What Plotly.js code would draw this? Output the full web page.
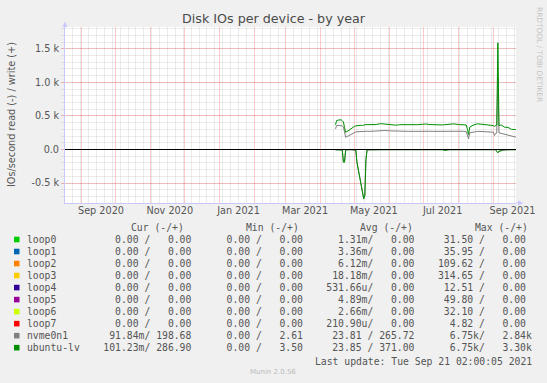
<!DOCTYPE html>
<html>
<head>
<meta charset="utf-8">
<script src="https://cdn.plot.ly/plotly-3.0.1.min.js"></script>
<style>
html,body{margin:0;padding:0;background:#F0F0F0;}
#chart{width:547px;height:383px;}
</style>
</head>
<body>
<div id="chart"></div>
<script>
// ---------- data ----------
const dates = ["2021-04-14","2021-04-15","2021-04-17","2021-04-19","2021-04-20","2021-04-21","2021-04-22","2021-04-23","2021-04-24","2021-04-26","2021-04-28","2021-05-01","2021-05-02","2021-05-03","2021-05-04","2021-05-05","2021-05-06","2021-05-07","2021-05-08","2021-05-09","2021-05-10","2021-05-11","2021-05-12","2021-05-14","2021-05-17","2021-05-20","2021-05-24","2021-05-28","2021-06-01","2021-06-04","2021-06-07","2021-06-10","2021-06-14","2021-06-18","2021-06-22","2021-06-26","2021-06-30","2021-07-03","2021-07-06","2021-07-10","2021-07-14","2021-07-18","2021-07-20","2021-07-24","2021-07-28","2021-08-01","2021-08-05","2021-08-08","2021-08-09","2021-08-10","2021-08-11","2021-08-14","2021-08-18","2021-08-22","2021-08-26","2021-08-30","2021-09-01","2021-09-02","2021-09-03","2021-09-04","2021-09-05","2021-09-06","2021-09-08","2021-09-09","2021-09-11","2021-09-14","2021-09-17","2021-09-20","2021-09-21"];
const ubuntuWrite = [368,432,440,442,428,410,330,258,265,290,323,347,352,355,360,365,368,362,358,366,370,372,370,368,376,372,385,380,376,372,362,370,368,372,366,370,375,380,372,368,372,366,370,372,382,372,370,365,300,223,333,362,383,378,375,370,357,345,360,365,1590,357,365,350,332,330,300,298,296];
const nvmeWrite   = [308,358,358,360,352,340,255,183,190,209,234,258,262,264,266,268,270,268,266,272,273,273,272,270,275,278,285,283,278,275,270,273,272,270,270,273,275,276,272,270,272,270,271,273,276,273,272,265,210,159,250,262,270,268,266,265,258,209,240,245,1080,249,240,235,220,208,195,185,184];
const ubuntuRead  = [5,5,4,5,6,189,189,6,3,3,3,3,8,190,290,390,487,600,700,735,690,150,5,3,3,3,3,3,3,3,3,3,3,3,3,3,3,3,3,3,3,3,15,3,3,3,3,3,10,4,3,3,3,3,3,3,3,3,3,30,50,25,20,5,3,3,3,3,3];
const nvmeRead    = [5,5,4,5,6,185,185,6,3,3,3,3,8,186,285,383,480,592,690,728,680,145,5,3,3,3,3,3,3,3,3,3,3,3,3,3,3,3,3,3,3,3,12,3,3,3,3,3,8,4,3,3,3,3,3,3,3,3,3,28,45,22,18,5,3,3,3,3,3];

const seriesNames  = ["loop0","loop1","loop2","loop3","loop4","loop5","loop6","loop7","nvme0n1","ubuntu-lv"];
const seriesColors = ["#00CC00","#0066B3","#FF8000","#FFCC00","#330099","#990099","#CCFF00","#FF0000","#808080","#008F00"];
const curRead  = ["0.00","0.00","0.00","0.00","0.00","0.00","0.00","0.00","91.84m","101.23m"];
const curWrite = ["0.00","0.00","0.00","0.00","0.00","0.00","0.00","0.00","198.68","286.90"];
const minRead  = ["0.00","0.00","0.00","0.00","0.00","0.00","0.00","0.00","0.00","0.00"];
const minWrite = ["0.00","0.00","0.00","0.00","0.00","0.00","0.00","0.00","2.61","3.50"];
const avgRead  = ["1.31m","3.36m","6.12m","18.18m","531.66u","4.89m","2.66m","210.90u","23.81","23.85"];
const avgWrite = ["0.00","0.00","0.00","0.00","0.00","0.00","0.00","0.00","265.72","371.00"];
const maxRead  = ["31.50","35.95","109.62","314.65","12.51","49.80","32.10","4.82","6.75k","6.75k"];
const maxWrite = ["0.00","0.00","0.00","0.00","0.00","0.00","0.00","0.00","2.84k","3.30k"];
const columnHeaders = ["Cur (-/+)","Min (-/+)","Avg (-/+)","Max (-/+)"];

const monthLabelDates = ["2020-09-18","2020-11-18","2021-01-18","2021-03-18","2021-05-18","2021-07-18","2021-09-18"];
const monthLabels = ["Sep 2020","Nov 2020","Jan 2021","Mar 2021","May 2021","Jul 2021","Sep 2021"];
const yTickVals = [-500,0,500,1000,1500];
const yTickText = ["-0.5 k","0.0","0.5 k","1.0 k","1.5 k"];
const xStart = "2020-08-17 02:00:05";
const xEnd = "2021-09-21 02:00:05";

// ---------- geometry ----------
const W = 547, H = 383, ML = 65, MR = 31, MT = 27, MB = 180;
const PW = W - ML - MR, PH = H - MT - MB;
const px = p => (p - ML) / PW;
const py = p => (H - MB - p) / PH;
const nb = s => s.replace(/ /g, "\u00A0");
const grayText = "#555555";
const PXK = 67.1, ZERO_PX = 149.5;

// ---------- traces ----------
const traces = [];
seriesNames.slice(0, 8).forEach((n, i) => {
  traces.push({x:[dates[0], dates[dates.length-1]], y:[0,0], xaxis:"x2", yaxis:"y",
    type:"scatter", mode:"lines", line:{color:seriesColors[i], width:1}, hoverinfo:"skip", showlegend:false});
});
traces.push({x:dates, y:nvmeRead.map(v => -v), type:"scatter", mode:"lines", line:{color:seriesColors[8], width:1}, showlegend:false});
traces.push({x:dates, y:nvmeWrite, type:"scatter", mode:"lines", line:{color:seriesColors[8], width:1}, showlegend:false});
traces.push({x:dates, y:ubuntuRead.map(v => -v), type:"scatter", mode:"lines", line:{color:seriesColors[9], width:1}, showlegend:false});
traces.push({x:dates, y:ubuntuWrite, type:"scatter", mode:"lines", line:{color:seriesColors[9], width:1}, showlegend:false});

// ---------- legend text ----------
function cell(v, w) {
  const s = /[a-z]$/i.test(v) ? v : v + " ";
  return s.padStart(w, " ");
}
function block(r, w) { return cell(r, 7) + "/" + cell(w, 8); }

const annotations = [];
const shapes = [];
const rowY0 = 239.5, rowStep = 12.02;
seriesNames.forEach((n, i) => {
  const line = n.padEnd(13, " ") + block(curRead[i], curWrite[i]) + "   " + block(minRead[i], minWrite[i]) +
    "   " + block(avgRead[i], avgWrite[i]) + "   " + block(maxRead[i], maxWrite[i]);
  const yc = rowY0 + rowStep * i;
  annotations.push({xref:"paper", yref:"paper", x:px(25.2), y:py(yc), xanchor:"left", yanchor:"middle",
    text:nb(line), showarrow:false, font:{family:"DejaVu Sans Mono", size:9.75, color:grayText}});
  shapes.push({type:"rect", xref:"paper", yref:"paper", x0:px(14), x1:px(19.5), y0:py(yc+2.8), y1:py(yc-2.8),
    fillcolor:seriesColors[i], line:{width:0}, layer:"above"});
});
const headerX = [128.8, 243.5, 357.8, 472.8];
columnHeaders.forEach((h, i) => {
  annotations.push({xref:"paper", yref:"paper", x:px(headerX[i]), y:py(227.7), xanchor:"left", yanchor:"middle",
    text:nb(h), showarrow:false, font:{family:"DejaVu Sans Mono", size:9.75, color:grayText}});
});
annotations.push({xref:"paper", yref:"paper", x:px(533.5), y:py(361), xanchor:"right", yanchor:"middle",
  text:nb("Last update: Tue Sep 21 02:00:05 2021"), showarrow:false, font:{family:"DejaVu Sans Mono", size:9.75, color:grayText}});
annotations.push({xref:"paper", yref:"paper", x:px(273), y:py(371.7), xanchor:"center", yanchor:"middle",
  text:"Munin 2.0.56", showarrow:false, font:{family:"DejaVu Sans", size:7, color:"#BBBBBB"}});
annotations.push({xref:"paper", yref:"paper", x:px(540), y:py(54), xanchor:"center", yanchor:"middle", textangle:90,
  text:"RRDTOOL / TOBI OETIKER", showarrow:false, font:{family:"DejaVu Sans", size:7.4, color:"#C4C4C4"}});
annotations.push({xref:"paper", yref:"paper", x:px(11), y:py(115), xanchor:"center", yanchor:"middle", textangle:-90,
  text:"IOs/second read (-) / write (+)", showarrow:false, font:{family:"DejaVu Sans", size:9.7, color:grayText}});

// zero line and axis arrows
shapes.push({type:"line", xref:"paper", yref:"y", x0:0, x1:1, y0:0, y1:0, line:{color:"#000000", width:1}, layer:"above"});
const axisCol = "#C8C8FF";
shapes.push({type:"path", xref:"paper", yref:"paper",
  path:`M ${px(62.5)} ${py(27)} L ${px(67.5)} ${py(27)} L ${px(65)} ${py(21.5)} Z`, fillcolor:axisCol, line:{width:0}, layer:"above"});
shapes.push({type:"path", xref:"paper", yref:"paper",
  path:`M ${px(518)} ${py(200.5)} L ${px(518)} ${py(205.5)} L ${px(523.5)} ${py(203)} Z`, fillcolor:axisCol, line:{width:0}, layer:"above"});
shapes.push({type:"line", xref:"paper", yref:"paper", x0:px(516), x1:px(518), y0:0, y1:0, line:{color:axisCol, width:1}, layer:"above"});

const majorGrid = "rgba(255,0,0,0.2)";
const minorGrid = "rgba(0,0,0,0.075)";

const layout = {
  width:W, height:H,
  paper_bgcolor:"#F0F0F0", plot_bgcolor:"#FFFFFF",
  margin:{l:ML, r:MR, t:MT, b:MB, pad:0},
  showlegend:false,
  title:{text:"Disk IOs per device - by year", x:0.5, xref:"container", xanchor:"center",
    y:1 - 19/H, yref:"container", yanchor:"middle", font:{family:"DejaVu Sans", size:12.7, color:"#4A4A4A"}},
  xaxis:{type:"date", range:[xStart, xEnd], showticklabels:false, ticks:"",
    tickmode:"linear", tick0:"2020-09-01", dtick:"M1",
    showgrid:true, gridcolor:majorGrid, griddash:"solid", gridwidth:1,
    minor:{tickmode:"linear", tick0:"2020-08-24", dtick:7*86400000, showgrid:true, gridcolor:minorGrid, griddash:"solid", gridwidth:1, ticks:""},
    zeroline:false, showline:true, linecolor:axisCol, linewidth:1, fixedrange:true},
  xaxis2:{type:"date", range:[xStart, xEnd], overlaying:"x", anchor:"y", side:"bottom",
    tickmode:"array", tickvals:monthLabelDates, ticktext:monthLabels, showgrid:false, zeroline:false,
    showline:false, ticks:"", tickfont:{family:"DejaVu Sans", size:9.7, color:grayText}, fixedrange:true},
  yaxis:{range:[(ZERO_PX-203)/PXK*1000, (ZERO_PX-27)/PXK*1000], tickmode:"array", tickvals:yTickVals, ticktext:yTickText,
    showgrid:true, gridcolor:majorGrid, griddash:"solid", gridwidth:1,
    ticks:"outside", ticklen:3, tickcolor:majorGrid, tickwidth:1,
    minor:{tickmode:"linear", tick0:0, dtick:100, showgrid:true, gridcolor:minorGrid, griddash:"solid", gridwidth:1, ticks:"outside", ticklen:3, tickcolor:minorGrid},
    zeroline:false, showline:true, linecolor:axisCol, linewidth:1,
    tickfont:{family:"DejaVu Sans", size:9.7, color:grayText}, ticklabelstandoff:0, fixedrange:true},
  annotations:annotations,
  shapes:shapes
};

Plotly.newPlot("chart", traces, layout, {staticPlot:true, displayModeBar:false});
</script>
</body>
</html>
